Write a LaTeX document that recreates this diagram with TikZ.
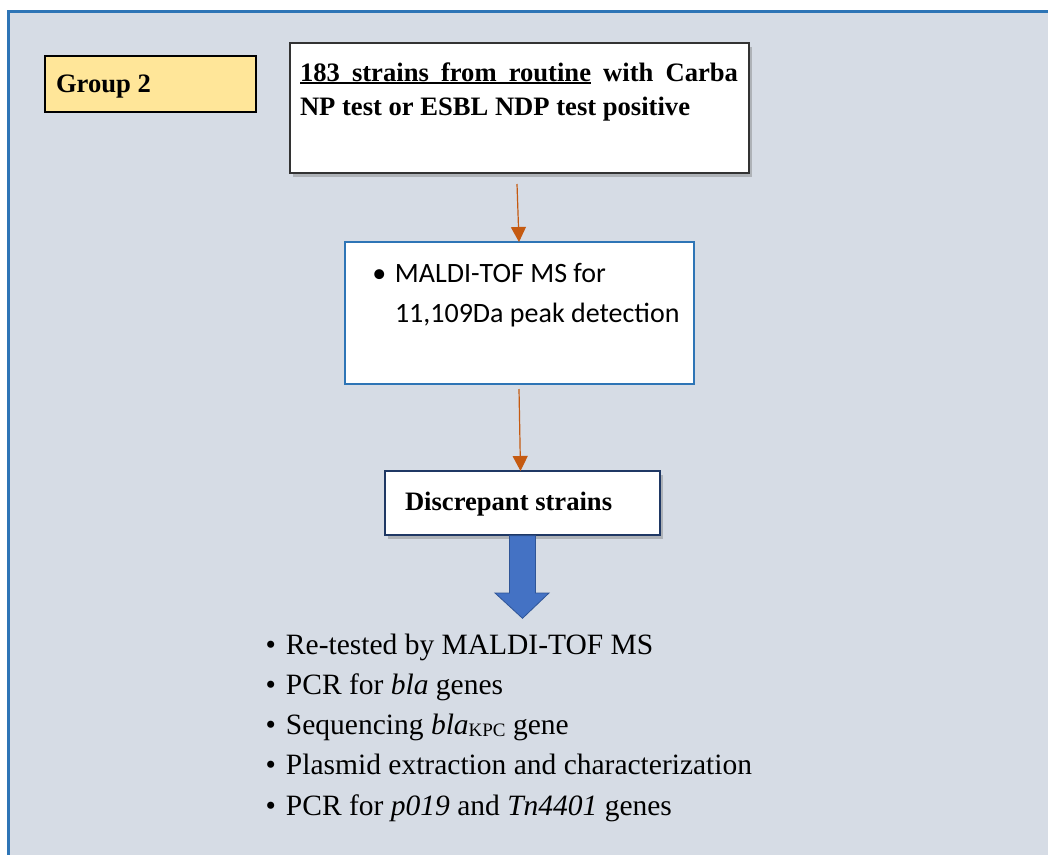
\documentclass[tikz,border=0pt]{standalone}
\usepackage{fontspec}
\setmainfont{Liberation Serif}
\newfontfamily\calib{Carlito}
\usetikzlibrary{arrows.meta,shadows,calc}

\definecolor{framebg}{HTML}{D6DCE5}
\definecolor{frameline}{HTML}{2E75B6}
\definecolor{grouptag}{HTML}{FFE699}
\definecolor{floworange}{HTML}{C55A11}
\definecolor{blockblue}{HTML}{4472C4}
\definecolor{blockedge}{HTML}{2F5597}
\definecolor{navyedge}{HTML}{1F3864}

% underlined word and underlined stretchable gap for a justified line
\newcommand{\ulword}[1]{\setbox0\hbox{#1}\rlap{\rule[-3.2pt]{\wd0}{1.8pt}}\box0}
\newcommand{\ulgap}{\leaders\hrule height -1.4pt depth 3.2pt\hskip 0.25em plus 1fil\relax}
\newcommand{\plaingap}{\hskip 0.25em plus 1fil\relax}
\newcommand{\bul}[1]{\llap{\makebox[#1][l]{•}}}

\tikzset{
  plainbox/.style={anchor=north west, inner sep=0pt, outer sep=0pt},
  softshadow/.style={drop shadow={shadow xshift=3pt, shadow yshift=-4pt, fill=black!55, opacity=0.4}},
  flowarrow/.style={draw=floworange, line width=1.2pt, -{Triangle[width=15pt,length=15pt]}},
  blockarrow/.style={fill=blockblue, draw=blockedge, line width=0.8pt, line join=miter},
}

\begin{document}
\begin{tikzpicture}[x={(1pt,0pt)}, y={(0pt,-1pt)}]
  \useasboundingbox (0,0) rectangle (1048,854);
  \fill[white] (0,0) rectangle (1048,854);
  \begin{scope}
    \clip (0,0) rectangle (1048,854);
    % panel behind the whole flow chart
    \draw[frameline, fill=framebg, line width=2.7pt] (8.7,11.3) rectangle (1070,880);
  \end{scope}

  % group label
  \node[plainbox, fill=grouptag, draw=black, line width=1.2pt,
        minimum width=211pt, minimum height=56pt] (group) at (45,56)
    {\parbox[t][56pt][t]{211pt}{\leftskip=11pt\bfseries\fontsize{26.6}{30}\selectfont
      \noindent\rule{0pt}{36pt}Group 2\par}};

  % starting population
  \node[plainbox, fill=white, draw=black!80, line width=1.6pt, softshadow,
        minimum width=459pt, minimum height=130pt] (main) at (290,43)
    {\parbox[t][130pt][t]{459pt}{%
      \leftskip=10pt\rightskip=11pt\parfillskip=0pt plus 1fil
      \bfseries\fontsize{26.6}{34.5}\selectfont
      \noindent\rule{0pt}{38pt}\hbox to 438pt{\ulword{183}\ulgap\ulword{strains}\ulgap
        \ulword{from}\ulgap\ulword{routine}\plaingap with\plaingap Carba}\newline
      NP test or ESBL NDP test positive\par}};

  % screening step
  \node[plainbox, fill=white, draw=frameline, line width=1.3pt,
        minimum width=349pt, minimum height=142pt] (maldi) at (345,242)
    {\parbox[t][142pt][t]{349pt}{%
      \calib\fontsize{28}{40}\selectfont\raggedright\leftskip=50pt
      \noindent\rule{0pt}{40pt}\bul{22.7pt}MALDI-TOF MS for\newline
      11,109Da peak detection\par}};

  % discrepant results
  \node[plainbox, fill=white, draw=navyedge, line width=1.3pt, softshadow,
        minimum width=275pt, minimum height=64pt] (disc) at (385,471)
    {\parbox[t][64pt][t]{275pt}{%
      \leftskip=20pt\bfseries\fontsize{26.6}{30}\selectfont
      \noindent\rule{0pt}{39pt}Discrepant strains\par}};

  % follow-up analyses
  \node[plainbox, minimum width=520pt, minimum height=200pt] (tests) at (250,620)
    {\parbox[t][200pt][t]{520pt}{%
      \raggedright\leftskip=36pt\fontsize{29.5}{40.3}\selectfont
      \noindent\rule{0pt}{34pt}\bul{20.5pt}Re-tested by MALDI-TOF MS\newline
      \bul{20.5pt}PCR for \textit{bla} genes\newline
      \bul{20.5pt}Sequencing \textit{bla}\raisebox{-2pt}{\fontsize{19}{19}\selectfont KPC} gene\newline
      \bul{20.5pt}Plasmid extraction and characterization\newline
      \bul{20.5pt}PCR for \textit{p019} and \textit{Tn4401} genes\par}};

  % connectors
  \draw[flowarrow] ($(main.south)+(-2.5,11)$) -- ($(maldi.north)+(-0.5,0)$);
  \draw[flowarrow] ($(maldi.south)+(-0.5,5)$) -- ($(disc.north)+(-2,0)$);

  % block arrow from the discrepant strains to the analyses
  \draw[blockarrow, shift={(disc.south)}]
    (-13,0.8) -- (-13,58) -- (-27.5,58) -- (0,83.3) -- (26.5,58) -- (13,58) -- (13,0.8) -- cycle;
\end{tikzpicture}
\end{document}
